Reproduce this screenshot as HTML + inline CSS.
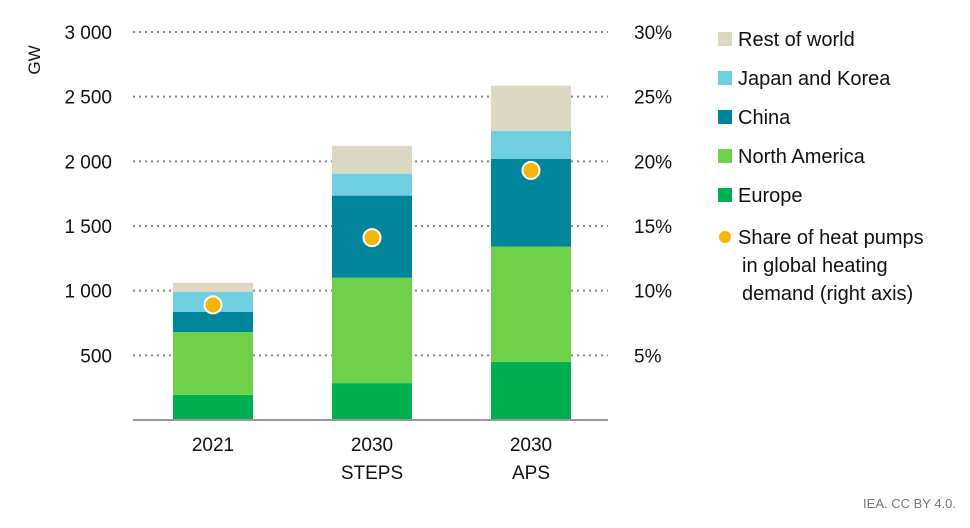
<!DOCTYPE html>
<html><head><meta charset="utf-8"><style>
body{margin:0;background:#fff;font-family:"Liberation Sans",sans-serif;}
svg text{font-family:"Liberation Sans",sans-serif;fill:#111;}
</style></head><body>
<svg width="970" height="523" id="c">
<g id="grid"></g><g id="bars"></g><g id="dots"></g><g id="labels"></g>
<g id="legend"></g>
<text x="40" y="60" font-size="17" transform="rotate(-90 40 60)" text-anchor="middle">GW</text>
<text x="956" y="508" font-size="13" fill="#777" style="fill:#777" text-anchor="end">IEA. CC BY 4.0.</text>
</svg>
<script>
const categories=[["2021"],["2030","STEPS"],["2030","APS"]];
const europe=[195,285,450];
const northAmerica=[485,815,890];
const china=[155,635,680];
const japanKorea=[155,170,215];
const restOfWorld=[70,215,350];
const share=[8.9,14.1,19.3];
const leftTicks=[500,1000,1500,2000,2500,3000];
const leftTickLabels=["500","1 000","1 500","2 000","2 500","3 000"];
const rightTickLabels=["5%","10%","15%","20%","25%","30%"];
const seriesNames=["Europe","North America","China","Japan and Korea","Rest of world"];
const colors=["#00b050","#6fd14a","#00859b","#6fcfe0","#ddd8c4"];
const ns="http://www.w3.org/2000/svg";
const y0=420,yTop=32,vmax=3000;
const y=v=>y0-(y0-yTop)*v/vmax;
const yr=p=>y0-(y0-yTop)*p/30;
const x=i=>173+i*159;const bw=80;
function mk(t,a,p){const e=document.createElementNS(ns,t);for(const k in a)e.setAttribute(k,a[k]);p.appendChild(e);return e;}
const grid=document.getElementById('grid');
leftTicks.forEach((v,i)=>{
 const l=mk('line',{x1:133,x2:608,y1:y(v),y2:y(v),stroke:'#888','stroke-width':2,'stroke-dasharray':'2 4'},grid);
 
 
 const t=mk('text',{x:112,y:y(v)+7,'font-size':19,'text-anchor':'end'},grid);t.textContent=leftTickLabels[i];
 
 
 const r=mk('text',{x:634,y:y(v)+7,'font-size':19},grid);r.textContent=rightTickLabels[i];
 
 
});
const bars=document.getElementById('bars');
const series=[europe,northAmerica,china,japanKorea,restOfWorld];
categories.forEach((c,i)=>{
 let acc=0;
 series.forEach((s,j)=>{
  const r=mk('rect',{x:x(i),y:y(acc+s[i]),width:bw,height:y(acc)-y(acc+s[i]),fill:colors[j]},bars);
  
  
  acc+=s[i];
 });
 c.forEach((s,k)=>{const t=mk('text',{x:x(i)+bw/2,y:451+k*28,'font-size':19,'text-anchor':'middle'},document.getElementById('labels'));t.textContent=s;
  
  });
 const d=mk('circle',{cx:x(i)+bw/2,cy:yr(share[i]),r:8.5,fill:'#f5b800',stroke:'#fff','stroke-width':2},document.getElementById('dots'));
 
 
});
const ax=mk('line',{x1:133,x2:608,y1:y0,y2:y0,stroke:'#999','stroke-width':2},bars);


const lg=document.getElementById('legend');
[4,3,2,1,0].forEach((j,k)=>{
 const yy=40+k*39;
 const r=mk('rect',{x:718,y:yy-8,width:14,height:14,fill:colors[j]},lg);
 
 
 const t=mk('text',{x:738,y:yy+6,'font-size':20},lg);t.textContent=seriesNames[j];
 
 
});
const lc=mk('circle',{cx:725,cy:237,r:6,fill:'#f5b800'},lg);


["Share of heat pumps","in global heating","demand (right axis)"].forEach((s,k)=>{
 const t=mk('text',{x:k?742:738,y:244+k*28,'font-size':20},lg);t.textContent=s;
 
 
});
</script>
</body></html>
